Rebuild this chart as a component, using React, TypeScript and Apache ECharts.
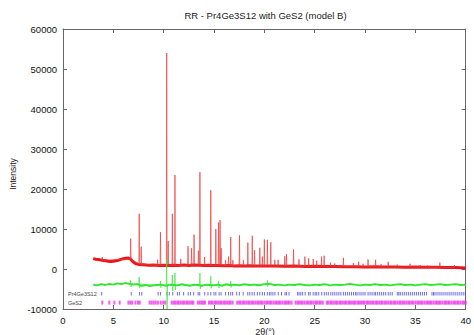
import React, { useEffect, useRef } from "react";
import * as echarts from "echarts";

// Observed pattern: background knots [2θ, intensity]
const obsBackground: [number, number][] = [
  [3.0, 2600], [3.25, 2450], [3.5, 2350], [3.75, 2250], [4.0, 2150], [4.25, 2050], [4.5, 1950], [4.75, 1900],
  [5.0, 1950], [5.25, 2050], [5.5, 2200], [5.75, 2400], [6.0, 2550], [6.25, 2700], [6.5, 2750], [6.75, 2400],
  [7.0, 1700], [7.25, 1300], [7.5, 1150], [8.0, 1050], [8.5, 950], [9.0, 1000], [9.5, 900], [10, 950],
  [10.5, 850], [11, 950], [11.5, 900], [12, 1000], [12.5, 900], [13, 1000], [13.5, 950], [14, 850],
  [14.5, 950], [15, 850], [15.5, 900], [16, 800], [16.5, 850], [17, 780], [17.5, 820], [18, 760],
  [18.5, 800], [19, 740], [19.5, 780], [20, 720], [21, 760], [22, 700], [23, 720], [24, 650],
  [25, 680], [26, 620], [27, 640], [28, 570], [29, 590], [30, 520], [31, 540], [32, 480],
  [33, 500], [34, 450], [35, 470], [36, 420], [37, 440], [38, 380], [39, 360], [40, 280],
];

// Observed Bragg peaks: [2θ, peak intensity, base intensity]
const obsPeaks: [number, number, number][] = [
  [3.9, 3000, 2200], [6.72, 7600, 2500], [7.57, 13800, 1300], [7.77, 5600, 1200], [9.4, 2300, 950],
  [9.68, 9200, 950], [10.3, 54000, 900], [10.45, 7000, 900], [10.86, 13800, 900], [11.12, 23500, 900],
  [11.7, 2500, 900], [12.42, 5700, 950], [12.77, 5200, 950], [13.02, 8600, 950], [13.45, 4600, 950],
  [13.6, 24200, 950], [14.06, 3000, 900], [14.68, 19700, 900], [15.18, 10000, 880], [15.45, 11600, 880],
  [15.6, 12200, 880], [15.72, 5200, 880], [16.15, 2200, 850], [16.44, 3100, 850], [16.66, 8000, 850],
  [16.87, 2200, 820], [17.53, 8400, 800], [17.92, 2200, 800], [18.36, 6600, 780], [18.8, 8300, 780],
  [19.03, 4700, 760], [19.55, 5300, 760], [19.8, 3100, 750], [20.0, 7400, 740], [20.3, 7300, 740],
  [20.64, 6700, 740], [21.04, 2300, 740], [21.37, 2300, 730], [22.03, 3200, 710], [22.2, 3700, 710],
  [22.9, 4900, 700], [23.44, 2400, 690], [24.03, 3100, 660], [24.4, 2700, 660], [24.86, 2500, 660],
  [25.2, 2100, 660], [25.68, 3100, 650], [25.94, 3300, 640], [26.57, 1600, 630], [27.0, 1400, 620],
  [27.85, 2800, 580], [28.84, 1500, 580], [29.37, 1800, 570], [29.8, 1300, 550], [30.3, 2400, 530],
  [31.05, 2300, 530], [31.6, 1200, 520], [32.3, 1800, 490], [33.2, 1100, 490], [34.47, 1300, 460],
  [35.5, 1000, 450], [36.2, 900, 420], [37.43, 1600, 430], [38.88, 1000, 370],
];

// Difference curve (obs - calc) baseline points
const diffBase: [number, number][] = [
  [3.0, -3900], [3.4, -4100], [3.8, -3800], [4.2, -4000], [4.6, -3700], [5.0, -3900], [5.4, -3600],
  [5.8, -3800], [6.2, -3500], [6.6, -3700], [7.0, -3900], [7.4, -3800], [7.8, -4200], [8.2, -4000],
  [8.6, -4300], [9.0, -4100], [9.4, -4000], [9.8, -3900], [10.2, -4200], [10.6, -3900], [11.0, -4000],
  [11.4, -4100], [11.8, -3800], [12.2, -4000], [12.6, -4200], [13.0, -3900], [13.4, -4000], [13.8, -4200],
  [14.2, -3900], [14.6, -4000], [15.0, -4100], [15.4, -3900], [15.8, -4200], [16.2, -3800], [16.6, -4000],
  [17.0, -3900], [17.5, -4100], [18.0, -3800], [18.5, -4000], [19.0, -3900], [19.5, -4100], [20.0, -3800],
  [20.5, -3700], [21.0, -4000], [21.5, -3900], [22, -4100], [22.5, -3900], [23, -4000], [23.5, -3800],
  [24, -4000], [24.5, -4100], [25, -3900], [25.5, -4000], [26, -3800], [26.5, -4100], [27, -3900],
  [27.5, -4000], [28, -3900], [28.5, -3700], [29, -3900], [29.5, -4100], [30, -3900], [30.5, -4000],
  [31, -3800], [31.5, -4000], [32, -3900], [32.5, -4100], [33, -3900], [33.5, -3800], [34, -4000],
  [34.5, -3900], [35, -4100], [35.5, -3900], [36, -3800], [36.5, -4000], [37, -3900], [37.5, -3800],
  [38, -4000], [38.5, -3900], [39, -3800], [39.5, -4000], [40, -3900],
];

// Difference spikes: [2θ, top, bottom, base]
const diffSpikes: [number, number, number, number][] = [
  [6.72, -2800, -4500, -3700], [7.57, -2000, -4800, -3800], [9.68, -3000, -4700, -4000],
  [10.3, 2500, -10000, -4000], [10.86, -1500, -5500, -4000], [11.12, -1000, -5200, -4000],
  [13.6, -1000, -5000, -4000], [14.68, -1800, -4800, -4000], [15.45, -3000, -4800, -4000],
  [16.66, -3000, -4600, -4000], [20.3, -2800, -4400, -3800],
];

// Reflection positions (2θ)
const reflPr4Ge3S12: number[] = [
  3.85, 6.78, 7.6, 7.82, 9.45, 9.68, 10.32, 10.56, 10.9, 11.36, 11.56, 11.98, 12.44, 12.66, 12.98,
  13.42, 13.58, 14.08, 14.4, 14.68, 15.0, 15.18, 15.5, 15.7, 16.15, 16.44, 16.66, 16.85, 17.25, 17.52,
  17.9, 18.35, 18.55, 18.78, 19.0, 19.3, 19.55, 19.8, 20.02, 20.3, 20.5, 20.66, 20.85, 21.05, 21.38,
  21.7, 22.05, 22.2, 22.45, 23.3, 23.45, 23.62, 23.8, 24.05, 24.4, 24.55, 24.85, 25.05, 25.2, 25.4,
  25.7, 25.95, 26.15, 26.35, 26.6, 26.8, 27.0, 27.2, 27.4, 27.6, 27.85, 28.05, 28.25, 28.45, 28.65,
  28.85, 29.05, 29.2, 29.4, 29.6, 29.8, 30.0, 30.3, 30.5, 30.7, 30.9, 31.05, 31.25, 31.45, 31.65,
  31.85, 32.05, 32.3, 32.5, 32.7, 33.2, 33.35, 33.5, 33.7, 33.9, 34.1, 34.3, 34.5, 34.7, 34.9, 35.1,
  35.3, 35.5, 35.7, 35.9, 36.1, 36.65, 36.8, 36.95, 37.15, 37.35, 37.55, 37.75, 37.95, 38.15, 38.35,
  38.55, 38.75, 38.95, 39.15, 39.35, 39.55, 39.75, 39.95,
];

const reflGeS2: number[] = [
  3.9, 4.6, 5.1, 5.63, 6.5, 6.7, 6.88, 7.2, 7.45, 7.62, 8.6, 8.8, 9.0, 9.2, 9.42, 9.7, 9.95, 10.15,
  10.8, 11.0, 11.15, 11.35, 11.5, 11.7, 11.9, 12.05, 12.25, 12.4, 12.6, 12.8, 12.95, 13.4, 13.6, 13.8,
  13.95, 14.1, 14.5, 14.7, 14.85, 15.05, 15.2, 15.4, 15.6, 15.75, 15.95, 16.1, 16.3, 16.5, 16.65, 16.85,
  17.3, 17.5, 17.65, 17.85, 18.0, 18.2, 18.4, 18.55, 18.75, 18.9, 19.1, 19.3, 19.45, 19.65, 19.8, 20.0,
  20.2, 20.35, 20.55, 20.7, 20.9, 21.1, 21.25, 21.45, 21.6, 21.8, 22.0, 22.15, 22.35, 22.5, 22.7, 23.1,
  23.3, 23.45, 23.65, 23.8, 24.0, 24.2, 24.35, 24.55, 24.7, 24.9, 25.1, 25.25, 25.45, 25.6, 25.8, 26.2,
  26.35, 26.55, 26.7, 26.9, 27.1, 27.25, 27.45, 27.6, 27.8, 28.0, 28.15, 28.35, 28.5, 28.7, 28.9, 29.05,
  29.25, 29.4, 29.6, 29.8, 29.95, 30.15, 30.3, 30.5, 30.7, 30.85, 31.05, 31.2, 31.4, 31.6, 31.75, 31.95,
  32.1, 32.3, 32.5, 32.65, 32.85, 33.0, 33.2, 33.4, 33.55, 33.75, 33.9, 34.1, 34.3, 34.45, 34.65, 34.8,
  35.0, 35.2, 35.35, 35.55, 35.7, 35.9, 36.1, 36.25, 36.45, 36.6, 36.8, 37.0, 37.15, 37.35, 37.5, 37.7,
  37.9, 38.05, 38.25, 38.4, 38.6, 38.8, 38.95, 39.15, 39.3, 39.5, 39.7, 39.85, 40.0,
];

const rowLevelPr = -6200;
const rowLevelGeS2 = -8400;

const xTicks = { min: 0, max: 40, interval: 5 };
const yTicks = { min: -10000, max: 60000, interval: 10000 };

const FONT = "'Liberation Sans', Arial, Helvetica, sans-serif";

export default function App() {
  const ref = useRef<HTMLDivElement>(null);

  useEffect(() => {
    if (!ref.current) return;
    const chart = echarts.init(ref.current, undefined, { renderer: "svg" });

    const peakLine: [number, number][] = [];
    obsPeaks.forEach(([x, h, b]) => {
      peakLine.push([x - 0.035, b], [x, h], [x + 0.035, b]);
    });

    const spikeLine: [number, number][] = [];
    diffSpikes.forEach(([x, t, bt, b]) => {
      spikeLine.push([x - 0.04, b], [x, t], [x + 0.04, bt], [x + 0.08, b]);
    });

    const axisLine = { show: true, onZero: false, lineStyle: { color: "#666", width: 1 } };
    const tick = { show: true, inside: true, length: 4, lineStyle: { color: "#666" } };
    const label = { color: "#111", fontSize: 9.5, fontFamily: FONT };

    chart.setOption({
      animation: false,
      backgroundColor: "#fff",
      grid: { left: 63, right: 6, top: 29, bottom: 26, containLabel: false },
      xAxis: [
        {
          type: "value", position: "bottom", ...xTicks,
          axisLine, axisTick: tick, splitLine: { show: false },
          axisLabel: { ...label, margin: 6 },
        },
        {
          type: "value", position: "top", ...xTicks,
          axisLine, axisTick: tick, splitLine: { show: false },
          axisLabel: { show: false },
        },
      ],
      yAxis: [
        {
          type: "value", position: "left", ...yTicks,
          axisLine, axisTick: tick, splitLine: { show: false },
          axisLabel: { ...label, margin: 6, formatter: (v: number) => String(v) },
        },
        {
          type: "value", position: "right", ...yTicks,
          axisLine, axisTick: tick, splitLine: { show: false },
          axisLabel: { show: false },
        },
      ],
      series: [
        {
          type: "line", data: obsBackground, symbol: "none", silent: true,
          lineStyle: { color: "#e8161b", width: 3 },
        },
        {
          type: "line", data: peakLine, symbol: "none", silent: true,
          lineStyle: { color: "#ec3a3a", width: 0.7 },
        },
        {
          type: "scatter", data: reflPr4Ge3S12.map((x) => [x, rowLevelPr]),
          symbol: "rect", symbolSize: [1, 3.5], silent: true,
          itemStyle: { color: "#4a4ad8" },
        },
        {
          type: "scatter", data: reflGeS2.map((x) => [x, rowLevelGeS2]),
          symbol: "rect", symbolSize: [2, 4], silent: true,
          itemStyle: { color: "#ee33ee" },
        },
        {
          type: "line", data: spikeLine, symbol: "none", silent: true,
          lineStyle: { color: "#3ee63e", width: 0.7 },
        },
        {
          type: "line", data: diffBase, symbol: "none", silent: true,
          lineStyle: { color: "#2ee62e", width: 1.8 },
        },
      ],
      graphic: [
        {
          type: "text", x: 265.5, y: 15,
          style: {
            text: "RR - Pr4Ge3S12 with GeS2 (model B)", fill: "#222", fontSize: 9.5,
            fontFamily: FONT, textAlign: "center", textVerticalAlign: "middle",
          },
        },
        {
          type: "text", x: 13, y: 174, rotation: Math.PI / 2,
          style: {
            text: "Intensity", fill: "#222", fontSize: 8.5, fontFamily: FONT,
            textAlign: "center", textVerticalAlign: "middle",
          },
        },
        {
          type: "text", x: 265, y: 331.5,
          style: {
            text: "2θ(°)", fill: "#222", fontSize: 9, fontFamily: FONT,
            textAlign: "center", textVerticalAlign: "middle",
          },
        },
        {
          type: "text", x: 68, y: 294,
          style: {
            text: "Pr4Ge3S12", fill: "#444", fontSize: 5.5, fontFamily: FONT,
            textAlign: "left", textVerticalAlign: "middle",
          },
        },
        {
          type: "text", x: 68, y: 303,
          style: {
            text: "GeS2", fill: "#444", fontSize: 5.5, fontFamily: FONT,
            textAlign: "left", textVerticalAlign: "middle",
          },
        },
      ],
    });

    return () => chart.dispose();
  }, []);

  return (
    <div
      ref={ref}
      style={{ position: "fixed", left: 0, top: 0, width: 474, height: 335, background: "#fff" }}
    />
  );
}
